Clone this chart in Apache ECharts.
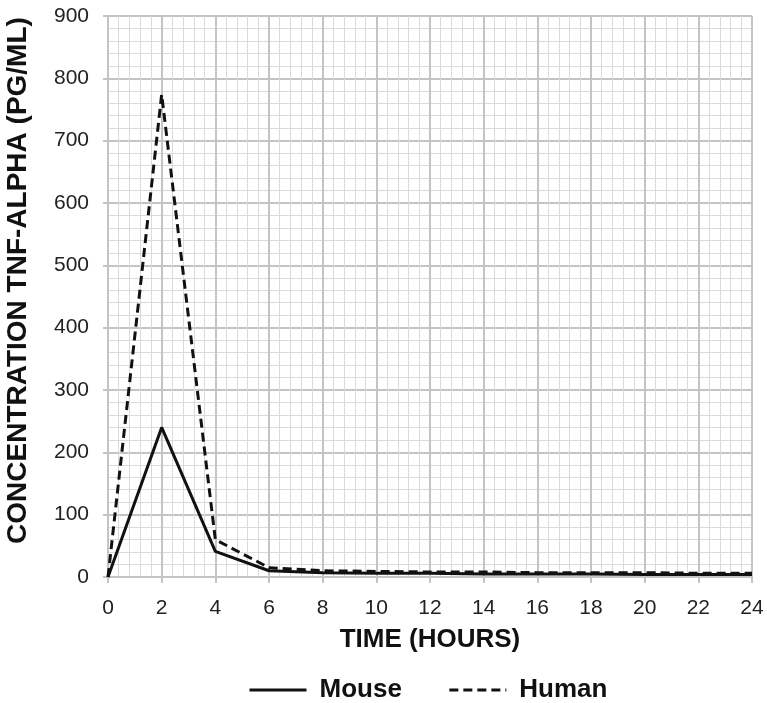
<!DOCTYPE html>
<html><head><meta charset="utf-8">
<script src="https://cdn.jsdelivr.net/npm/echarts@6/dist/echarts.min.js"></script>
<style>html,body{margin:0;padding:0;background:#fff}#c{width:767px;height:703px}</style>
</head><body><div id="c"></div>
<script>
const hours = [0, 2, 4, 6, 8, 10, 12, 14, 16, 18, 20, 22, 24];
const mouse = [0, 240, 41, 10, 7, 6, 6, 5, 5, 5, 4, 4, 4];
const human = [0, 774, 60, 15, 10, 9, 8, 8, 7, 7, 7, 6, 6];
const xTicks = [0, 24, 2];
const yTicks = [0, 900, 100];

const chart = echarts.init(document.getElementById('c'));
const font = 'Liberation Sans, Arial, sans-serif';
chart.setOption({
  animation: false,
  grid: {left: 108, right: 15, top: 16, bottom: 126, outerBoundsMode: 'none', containLabel: false},
  legend: {
    top: 672, left: 243, itemWidth: 57, itemHeight: 14, itemGap: 46,
    itemStyle: {opacity: 0, borderWidth: 0},
    lineStyle: {width: 3},
    textStyle: {fontFamily: font, fontSize: 26, fontWeight: 'bold', color: '#111', padding: [0,0,0,8]},
    data: ['Mouse', 'Human']
  },
  xAxis: {
    type: 'value', min: xTicks[0], max: xTicks[1], interval: xTicks[2],
    name: 'TIME (HOURS)', nameLocation: 'middle', nameGap: 50,
    nameTextStyle: {fontFamily: font, fontSize: 26, fontWeight: 'bold', color: '#111'},
    axisLine: {show: true, lineStyle: {color: '#c4c4c4', width: 2}},
    axisTick: {show: true, length: 6, lineStyle: {color: '#c4c4c4', width: 2}},
    axisLabel: {fontFamily: font, fontSize: 21, color: '#222', margin: 21},
    splitLine: {show: true, lineStyle: {color: '#c4c4c4', width: 2}},
    minorTick: {show: false, splitNumber: 5},
    minorSplitLine: {show: true, lineStyle: {color: '#dadada', width: 1}}
  },
  yAxis: {
    type: 'value', min: yTicks[0], max: yTicks[1], interval: yTicks[2],
    name: 'CONCENTRATION TNF-ALPHA (PG/ML)', nameLocation: 'middle', nameGap: 76, nameRotate: 90,
    nameTextStyle: {fontFamily: font, fontSize: 28, fontWeight: 'bold', color: '#111', padding: [0, 0, 0, 32]},
    axisLine: {show: true, lineStyle: {color: '#c4c4c4', width: 2}},
    axisTick: {show: true, length: 5, lineStyle: {color: '#c4c4c4', width: 2}},
    axisLabel: {fontFamily: font, fontSize: 21, color: '#222', margin: 19},
    splitLine: {show: true, lineStyle: {color: '#c4c4c4', width: 2}},
    minorTick: {show: false, splitNumber: 5},
    minorSplitLine: {show: true, lineStyle: {color: '#dadada', width: 1}}
  },
  series: [
    {name: 'Mouse', type: 'line', data: hours.map((h, i) => [h, mouse[i]]), showSymbol: false, symbol: 'none',
     lineStyle: {color: '#111', width: 3, type: 'solid'}, itemStyle: {color: '#111'}, z: 3},
    {name: 'Human', type: 'line', data: hours.map((h, i) => [h, human[i]]), showSymbol: false, symbol: 'none',
     lineStyle: {color: '#111', width: 3, type: [9, 5]}, itemStyle: {color: '#111'}, z: 4}
  ]
});
</script></body></html>
